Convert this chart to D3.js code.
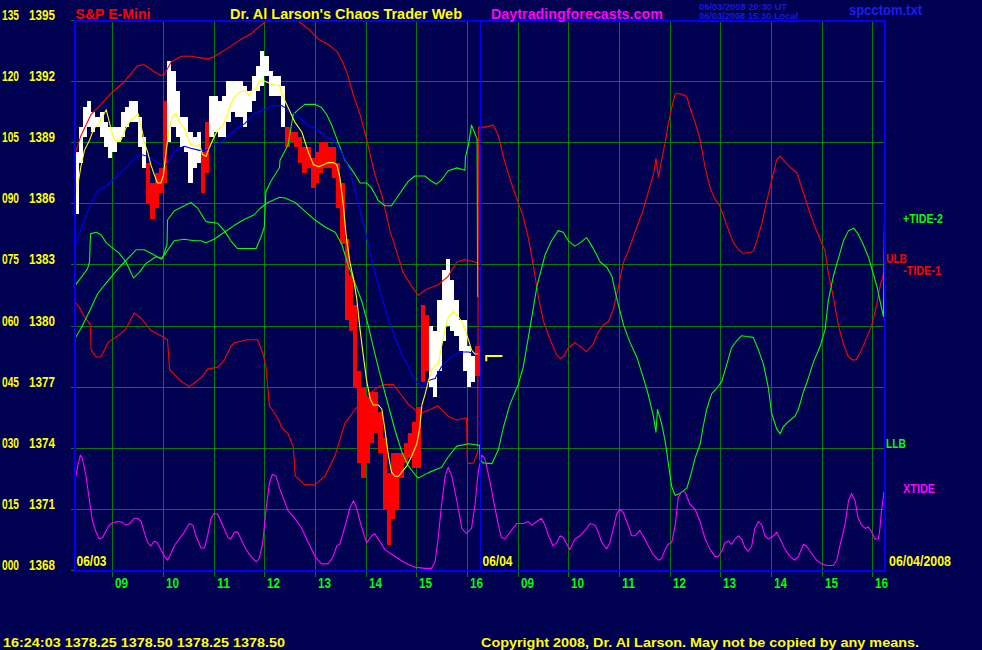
<!DOCTYPE html>
<html><head><meta charset="utf-8">
<script src="https://cdn.jsdelivr.net/npm/d3@7"></script>
<style>
html,body{margin:0;padding:0;background:#000050;}
svg{display:block;}
text{font-family:"Liberation Sans",Arial,sans-serif;font-weight:bold;}
</style></head><body>
<svg id="c" width="982" height="650"></svg>
<script>
// ---------------- DATA ----------------
const idxTicks=[0,15,30,45,60,75,90,105,120,135];
const priceTicks=[1368,1371,1374,1377,1380,1383,1386,1389,1392,1395];
const hourLabels=["09","10","11","12","13","14","15","16"];
const sessionDates=["06/03","06/04"];
const sessionStart=[0,8];          // session hours from 08:15 on 06/03
const firstHourOffset=0.75;        // 09:00 is 45 min after the 08:15 open
const barHours=1/12;               // 5-minute bars
const endDate="06/04/2008";

// price bars 06/03 (5-min high / low / up=1 white, down=0 red)
const barHigh=[1388.5,1389.75,1390.75,1391.0,1390.5,1390.25,1390.5,1390.0,1389.75,1389.75,
1389.75,1390.5,1390.75,1391.0,1391.0,1390.25,1389.25,1388.0,1387.0,1387.5,
1387.75,1391.0,1393.0,1392.5,1391.5,1390.25,1390.25,1389.5,1389.25,1389.5,
1388.5,1390.0,1391.25,1391.25,1391.0,1391.25,1392.0,1392.0,1392.0,1392.0,
1391.75,1391.5,1392.25,1392.75,1393.5,1393.25,1392.5,1392.25,1392.25,1391.75,
1389.75,1389.5,1389.5,1389.25,1388.75,1388.75,1388.25,1388.5,1389.0,1389.0,
1388.75,1388.75,1388.0,1387.0,1384.25,1382.5,1381.0,1377.75,1377.0,1376.5,
1376.75,1376.75,1375.75,1374.5,1372.75,1373.75,1373.75,1373.75,1374.25,1374.75,
1375.25,1376.0,1381.0,1380.5,1380.0,1379.75,1381.25,1382.75,1383.25,1382.25,
1381.25,1380.25,1380.25,1379.0,1378.5,1379.0];
const barLow=[1385.5,1388.0,1389.25,1389.75,1389.5,1389.75,1389.25,1388.75,1388.25,1388.5,
1389.0,1389.25,1389.75,1390.0,1390.0,1388.75,1387.75,1386.0,1385.25,1385.75,
1386.5,1387.0,1389.0,1389.75,1389.25,1388.75,1388.5,1387.0,1387.75,1388.0,
1386.5,1387.5,1389.25,1389.5,1389.25,1389.25,1390.0,1390.5,1390.25,1390.25,
1389.75,1390.5,1391.0,1391.5,1391.75,1392.25,1391.25,1391.25,1391.25,1389.75,
1388.75,1389.0,1388.75,1388.0,1387.5,1387.75,1386.75,1387.0,1387.5,1387.75,
1387.75,1387.25,1385.75,1384.0,1380.25,1379.75,1377.0,1373.25,1372.5,1373.25,
1374.25,1374.75,1373.75,1371.0,1369.25,1370.5,1371.0,1372.5,1373.25,1373.5,
1373.0,1373.0,1377.25,1377.75,1377.0,1376.5,1377.75,1379.25,1380.0,1379.75,
1379.5,1378.75,1377.75,1377.0,1377.25,1377.5];
const barUp=[1,1,1,1,1,1,1,1,1,1,1,1,1,1,1,1,1,0,0,0,0,0,1,1,1,1,1,1,1,1,0,0,
1,1,1,1,1,1,1,1,1,1,1,1,1,1,1,1,1,1,0,0,0,0,0,0,0,0,0,0,0,0,0,0,0,0,0,0,0,0,
0,0,0,0,0,0,0,0,0,0,0,0,0,0,1,1,1,1,1,1,1,1,1,1,1,0];

const lastPrice=1378.50, lastTickLow=1378.25, lastMarkT=[8.13,8.45];
const lastTime="16:24:03";
const lastOHLC=[1378.25,1378.50,1378.25,1378.50];

// moving averages (price)  [session hour, price]
const yellowMA=[[0.00,1386.05],[0.07,1386.9],[0.13,1387.8],[0.20,1388.6],[0.30,1389.1],[0.39,1389.7],[0.49,1389.9],[0.63,1390.6],[0.69,1390.0],[0.76,1389.3],[0.82,1389.1],[0.92,1389.1],[1.02,1389.7],[1.12,1390.1],[1.22,1390.3],[1.26,1390.4],[1.32,1389.8],[1.38,1389.0],[1.45,1388.5],[1.51,1387.9],[1.58,1387.4],[1.64,1387.0],[1.71,1387.0],[1.76,1387.4],[1.81,1388.5],[1.88,1389.8],[1.94,1390.3],[2.01,1390.4],[2.07,1390.0],[2.17,1389.7],[2.24,1389.2],[2.30,1388.9],[2.40,1388.8],[2.47,1388.9],[2.53,1388.4],[2.60,1388.3],[2.66,1388.7],[2.73,1389.1],[2.83,1389.6],[2.93,1389.8],[3.03,1390.4],[3.09,1390.9],[3.19,1391.3],[3.29,1391.5],[3.39,1391.5],[3.45,1391.3],[3.52,1391.6],[3.59,1391.6],[3.65,1392.0],[3.75,1392.0],[3.85,1391.9],[3.95,1391.8],[4.05,1391.8],[4.09,1391.4],[4.22,1390.7],[4.35,1390.0],[4.49,1389.5],[4.62,1388.5],[4.72,1387.9],[4.82,1387.8],[4.92,1387.9],[5.01,1388.0],[5.11,1388.0],[5.18,1387.9],[5.24,1387.3],[5.31,1385.9],[5.37,1384.3],[5.44,1383.1],[5.51,1382.3],[5.57,1381.4],[5.64,1379.8],[5.70,1378.6],[5.77,1377.3],[5.84,1376.4],[5.90,1376.1],[6.00,1376.1],[6.07,1375.9],[6.13,1374.9],[6.20,1373.6],[6.26,1372.8],[6.33,1372.6],[6.40,1372.6],[6.46,1372.8],[6.56,1373.1],[6.66,1373.6],[6.76,1374.2],[6.82,1375.0],[6.86,1376.1],[6.92,1376.6],[6.99,1377.3],[7.05,1377.8],[7.12,1378.0],[7.18,1378.1],[7.25,1379.0],[7.32,1379.8],[7.38,1380.4],[7.48,1380.7],[7.55,1380.5],[7.65,1380.2],[7.71,1379.8],[7.78,1379.3],[7.84,1378.8],[7.91,1378.6],[7.97,1378.6]];
const blueMA=[[0.00,1383.8],[0.10,1384.5],[0.20,1385.2],[0.33,1386.0],[0.46,1386.6],[0.66,1386.9],[0.86,1387.4],[1.05,1387.8],[1.18,1388.2],[1.32,1388.4],[1.45,1388.3],[1.58,1388.1],[1.71,1387.9],[1.78,1387.8],[1.84,1388.0],[1.97,1388.5],[2.07,1388.7],[2.17,1388.8],[2.30,1388.7],[2.47,1388.6],[2.60,1388.6],[2.70,1388.8],[2.89,1389.0],[3.03,1389.3],[3.22,1389.7],[3.36,1389.9],[3.55,1390.4],[3.75,1390.6],[3.95,1390.8],[4.09,1390.8],[4.22,1390.6],[4.35,1390.4],[4.49,1390.1],[4.62,1389.8],[4.75,1389.7],[4.95,1389.3],[5.11,1389.1],[5.28,1388.5],[5.41,1387.8],[5.54,1386.6],[5.67,1385.4],[5.80,1384.0],[5.93,1382.6],[6.07,1381.4],[6.20,1380.3],[6.33,1379.4],[6.46,1378.6],[6.59,1378.0],[6.72,1377.3],[6.86,1377.0],[6.99,1377.3],[7.12,1377.4],[7.25,1378.0],[7.38,1378.3],[7.51,1378.6],[7.65,1378.7],[7.78,1378.7],[7.91,1378.6],[7.97,1378.5]];

// cycle index lines (0-135 scale)  [session hour, value]
const ulb=[[0,101.4],[0.13,106.6],[0.33,111.8],[0.53,114.3],[0.72,116.9],[0.99,119.9],[1.25,123.8],[1.38,124.0],[1.58,122.3],[1.71,121.4],[1.78,121.7],[1.91,124.7],[2.11,126.1],[2.30,126.1],[2.50,125.7],[2.63,125.4],[2.76,126.0],[3.03,128.1],[3.29,130.3],[3.49,131.6],[3.68,133.7],[3.82,135.0],[4.1,138.5],[4.39,135.0],[4.62,132.8],[4.82,130.3],[5.01,129.0],[5.18,127.3],[5.28,125.1],[5.38,122.1],[5.51,116.5],[5.64,111.8],[5.77,105.7],[5.93,97.1],[6.07,92.0],[6.23,83.3],[6.36,78.2],[6.49,73.0],[6.66,69.6],[6.79,67.4],[6.92,68.7],[7.18,70.0],[7.38,72.1],[7.55,75.6],[7.71,76.2],[7.91,75.6],[7.97,75.2]];
const tide1=[[0,66.1],[0.10,64.4],[0.20,62.2],[0.32,60.1],[0.33,54.1],[0.43,52.3],[0.53,52.3],[0.66,55.8],[0.86,57.5],[1.02,59.2],[1.18,63.1],[1.32,61.8],[1.51,58.8],[1.71,57.5],[1.84,56.5],[1.88,49.3],[1.97,48.0],[2.11,46.3],[2.27,45.0],[2.37,45.9],[2.53,47.6],[2.63,49.3],[2.83,49.8],[2.96,51.5],[3.09,54.9],[3.16,55.8],[3.42,56.5],[3.62,56.5],[3.72,53.2],[3.78,50.2],[3.82,44.6],[3.85,40.3],[3.95,38.6],[4.05,36.4],[4.09,35.1],[4.22,33.4],[4.32,30.4],[4.36,23.1],[4.55,20.9],[4.75,20.9],[4.95,23.1],[5.15,28.2],[5.34,36.0],[5.54,39.4],[5.67,41.2],[5.80,42.9],[6.00,45.0],[6.13,45.5],[6.30,45.5],[6.46,42.9],[6.59,40.7],[6.72,39.4],[6.86,38.6],[7.02,39.4],[7.18,40.3],[7.38,37.7],[7.55,36.8],[7.74,37.3],[7.76,26.1],[7.88,26.3],[7.96,28.9],[7.98,108.7],[8.11,108.7],[8.27,109.2],[8.37,106.6],[8.47,101.4],[8.57,97.1],[8.66,93.7],[8.76,90.2],[8.86,86.8],[8.96,81.6],[9.06,74.7],[9.16,67.0],[9.26,61.0],[9.39,56.6],[9.52,52.8],[9.59,51.9],[9.65,52.3],[9.75,54.5],[9.88,55.8],[9.98,54.9],[10.11,53.6],[10.24,55.4],[10.34,58.4],[10.44,60.1],[10.54,61.0],[10.64,64.0],[10.74,69.6],[10.84,75.6],[10.93,78.2],[11.03,81.6],[11.13,85.1],[11.23,88.5],[11.33,92.8],[11.43,97.1],[11.48,101.0],[11.53,96.3],[11.57,99.3],[11.66,104.9],[11.72,109.2],[11.79,113.5],[11.86,116.9],[11.95,116.9],[12.05,116.5],[12.09,116.1],[12.15,113.5],[12.25,110.0],[12.35,105.7],[12.45,98.8],[12.55,93.7],[12.64,91.1],[12.74,89.4],[12.84,85.9],[12.94,82.5],[13.01,80.3],[13.11,78.6],[13.20,77.7],[13.34,78.0],[13.40,78.2],[13.47,80.8],[13.57,85.1],[13.66,90.2],[13.76,95.4],[13.86,100.6],[13.93,101.6],[14.03,100.1],[14.13,98.8],[14.26,97.5],[14.36,93.7],[14.45,90.2],[14.59,85.1],[14.72,81.2],[14.82,78.2],[14.88,73.0],[14.98,67.0],[15.08,60.1],[15.18,55.4],[15.28,52.3],[15.38,51.5],[15.44,51.7],[15.54,54.1],[15.64,57.1],[15.74,60.1],[15.84,65.3],[15.90,69.6],[15.98,73.0]];
const tide2Day1=[[0,69.6],[0.13,71.7],[0.26,73.9],[0.30,75.6],[0.32,82.5],[0.43,82.9],[0.53,82.3],[0.63,80.3],[0.76,79.0],[0.89,77.7],[1.02,75.6],[1.17,71.7],[1.28,73.0],[1.41,75.2],[1.61,76.9],[1.74,76.5],[1.83,79.9],[1.84,85.9],[1.97,88.1],[2.17,89.4],[2.30,90.2],[2.43,88.9],[2.60,85.5],[2.83,85.1],[2.96,83.3],[3.09,80.8],[3.22,78.9],[3.59,78.9],[3.68,81.6],[3.75,84.2],[3.78,92.8],[3.88,95.4],[4.05,98.8],[4.06,100.6],[4.22,104.4],[4.32,111.8],[4.42,113.0],[4.55,114.3],[4.75,114.3],[4.88,113.5],[4.98,111.8],[5.08,109.2],[5.21,104.9],[5.34,100.6],[5.54,97.1],[5.64,95.0],[5.77,95.0],[5.87,93.7],[6.00,90.7],[6.13,89.4],[6.26,89.4],[6.40,92.0],[6.59,95.4],[6.72,96.7],[6.92,96.7],[7.05,95.4],[7.15,94.7],[7.25,95.8],[7.38,98.0],[7.55,98.7],[7.71,98.1],[7.72,101.4],[7.78,104.4],[7.84,109.2],[7.91,107.0],[7.95,105.7],[7.96,67.0]];
const llbTide2=[[0,56.6],[0.13,59.2],[0.30,63.5],[0.46,67.8],[0.66,70.9],[0.86,73.9],[0.99,75.6],[1.22,78.6],[1.38,78.6],[1.55,77.5],[1.72,76.3],[1.97,80.8],[2.17,81.2],[2.37,80.8],[2.50,80.8],[2.60,80.3],[2.76,81.2],[2.96,82.9],[3.16,84.6],[3.36,86.1],[3.55,87.2],[3.68,88.9],[3.82,90.2],[4.05,91.5],[4.16,91.3],[4.36,90.2],[4.55,88.1],[4.75,85.9],[4.95,84.2],[5.15,82.9],[5.28,79.9],[5.41,74.7],[5.54,70.4],[5.67,66.1],[5.80,60.1],[5.93,53.2],[6.07,46.3],[6.20,40.3],[6.33,34.3],[6.46,29.1],[6.59,25.6],[6.72,23.5],[6.79,22.6],[6.99,23.9],[7.25,25.2],[7.38,27.8],[7.55,30.4],[7.78,31.0],[8.00,30.6],[8.01,27.0],[8.07,26.3],[8.24,26.1],[8.37,29.5],[8.47,35.1],[8.60,40.7],[8.76,45.5],[8.86,49.8],[8.99,59.2],[9.13,69.6],[9.29,77.3],[9.42,80.8],[9.55,83.3],[9.65,82.9],[9.75,80.8],[9.88,79.5],[9.98,80.3],[10.11,81.6],[10.24,79.0],[10.38,75.6],[10.51,74.3],[10.61,72.1],[10.70,67.0],[10.84,60.1],[10.97,55.8],[11.10,52.3],[11.23,47.2],[11.33,42.9],[11.43,37.7],[11.48,33.8],[11.51,39.4],[11.59,36.0],[11.66,31.7],[11.72,26.5],[11.79,20.5],[11.86,18.3],[11.95,18.8],[12.09,20.1],[12.18,23.9],[12.25,27.4],[12.35,30.8],[12.41,35.1],[12.48,39.4],[12.58,43.3],[12.68,44.6],[12.78,46.3],[12.88,50.6],[12.97,54.5],[13.07,56.2],[13.17,57.5],[13.27,57.3],[13.40,57.1],[13.50,54.1],[13.60,50.6],[13.70,44.6],[13.76,38.6],[13.86,34.7],[13.93,33.4],[13.99,35.1],[14.09,36.4],[14.22,37.7],[14.29,39.4],[14.39,43.7],[14.49,47.2],[14.59,51.1],[14.72,54.9],[14.82,59.2],[14.88,66.1],[14.98,72.1],[15.08,76.5],[15.18,80.8],[15.28,83.3],[15.38,83.9],[15.47,82.5],[15.57,79.9],[15.67,76.9],[15.74,73.9],[15.84,69.6],[15.93,64.4],[15.97,62.2],[15.99,85.5]];
const xtide=[[0.00,20.9],[0.07,25.7],[0.12,28.2],[0.16,27.4],[0.23,23.1],[0.30,17.0],[0.36,11.9],[0.43,9.3],[0.49,7.6],[0.56,8.0],[0.63,9.7],[0.69,11.0],[0.76,11.6],[0.86,11.9],[0.95,11.7],[1.02,11.0],[1.09,11.4],[1.18,12.7],[1.25,12.7],[1.32,11.9],[1.38,9.3],[1.45,6.7],[1.51,5.9],[1.58,7.1],[1.64,6.7],[1.71,5.0],[1.78,3.3],[1.84,2.4],[1.91,4.1],[1.97,5.9],[2.07,7.6],[2.17,9.3],[2.27,11.4],[2.34,11.0],[2.40,8.4],[2.50,5.4],[2.57,5.4],[2.63,8.4],[2.70,12.7],[2.76,14.0],[2.83,13.6],[2.93,11.0],[3.03,8.0],[3.09,7.6],[3.16,9.3],[3.22,9.3],[3.29,7.6],[3.39,5.0],[3.49,3.3],[3.59,2.0],[3.65,2.8],[3.72,6.7],[3.78,14.5],[3.85,21.3],[3.91,23.5],[3.98,23.1],[4.05,20.1],[4.09,18.8],[4.22,14.5],[4.35,12.7],[4.49,10.2],[4.62,6.7],[4.75,3.3],[4.88,1.5],[5.01,1.5],[5.11,3.3],[5.18,5.9],[5.24,6.3],[5.37,11.9],[5.44,15.3],[5.51,17.0],[5.57,15.3],[5.64,11.9],[5.70,9.3],[5.77,6.7],[5.87,8.4],[5.93,8.9],[6.00,7.6],[6.13,5.0],[6.33,3.3],[6.53,1.7],[6.72,0.7],[6.92,0.4],[7.05,0.4],[7.12,2.0],[7.18,7.6],[7.25,16.2],[7.32,23.1],[7.38,25.2],[7.45,23.1],[7.55,17.0],[7.65,10.2],[7.74,8.9],[7.84,10.2],[7.91,16.2],[7.97,23.9],[8.04,28.2],[8.10,27.4],[8.20,22.0],[8.30,15.3],[8.37,11.0],[8.43,8.0],[8.50,7.6],[8.60,9.3],[8.73,11.4],[8.86,11.4],[8.96,11.9],[9.03,11.0],[9.13,11.9],[9.22,12.7],[9.29,11.0],[9.36,8.4],[9.45,5.9],[9.52,6.7],[9.59,8.4],[9.65,8.0],[9.72,6.3],[9.78,5.0],[9.88,7.6],[9.98,8.4],[10.08,9.7],[10.18,11.4],[10.28,11.0],[10.34,9.3],[10.41,6.7],[10.51,5.2],[10.57,6.7],[10.64,10.2],[10.70,13.6],[10.77,14.9],[10.84,14.0],[10.93,11.0],[11.00,8.4],[11.07,8.4],[11.16,9.7],[11.26,7.6],[11.33,5.9],[11.43,3.7],[11.53,2.4],[11.59,2.8],[11.66,5.0],[11.72,6.3],[11.79,6.7],[11.86,11.0],[11.92,17.9],[11.99,19.2],[12.05,19.2],[12.15,16.2],[12.25,14.9],[12.35,11.9],[12.45,7.6],[12.55,5.0],[12.65,3.3],[12.71,3.3],[12.78,4.6],[12.84,6.7],[12.91,7.1],[12.97,6.3],[13.04,7.6],[13.11,8.4],[13.17,7.6],[13.24,5.4],[13.30,4.6],[13.37,5.9],[13.43,10.2],[13.50,11.9],[13.57,11.0],[13.63,8.4],[13.70,7.6],[13.80,8.4],[13.86,9.3],[13.93,7.6],[14.03,5.0],[14.13,3.3],[14.22,2.4],[14.29,3.3],[14.39,6.3],[14.45,5.9],[14.55,4.1],[14.65,2.4],[14.75,1.5],[14.85,1.1],[14.98,1.1],[15.05,2.4],[15.11,5.9],[15.21,11.0],[15.28,17.0],[15.34,18.8],[15.41,17.0],[15.47,12.7],[15.54,11.0],[15.61,10.2],[15.67,10.6],[15.74,9.3],[15.80,7.6],[15.87,7.6],[15.90,10.2],[15.93,14.5],[15.98,19.2]];

// ---------------- DRAW ----------------
const BG="#000050", GRID="#008000", BORDER="#0000ff";
const svg=d3.select("#c");
svg.append("rect").attr("width",982).attr("height",650).attr("fill",BG);

const x=d3.scaleLinear().domain([0,16]).range([74.3,885]);
const yIdx=d3.scaleLinear().domain([0,135]).range([570,20]);
const yPx=d3.scaleLinear().domain([1368,1395]).range([570,20]);

const hourTicks=[];
sessionStart.forEach(s=>hourLabels.forEach((l,i)=>hourTicks.push({t:s+firstHourOffset+i,label:l})));

const g=svg.append("g");
g.selectAll("line.h").data(idxTicks).join("line")
 .attr("x1",71).attr("x2",884)
 .attr("y1",d=>Math.round(yIdx(d))+0.5).attr("y2",d=>Math.round(yIdx(d))+0.5)
 .attr("stroke",GRID).attr("stroke-width",1);
g.selectAll("line.v").data(hourTicks).join("line")
 .attr("x1",d=>Math.round(x(d.t))+0.5).attr("x2",d=>Math.round(x(d.t))+0.5)
 .attr("y1",20).attr("y2",577)
 .attr("stroke",GRID).attr("stroke-width",1);

svg.append("clipPath").attr("id","pc").append("rect").attr("x",76).attr("y",22).attr("width",808).attr("height",548);
const p=svg.append("g").attr("clip-path","url(#pc)");

p.selectAll("rect.bar").data(barHigh).join("rect")
 .attr("x",(d,i)=>x(i*barHours))
 .attr("width",(d,i)=>x((i+1)*barHours)-x(i*barHours))
 .attr("y",d=>yPx(d))
 .attr("height",(d,i)=>Math.max(1,yPx(barLow[i])-yPx(d)))
 .attr("fill",(d,i)=>barUp[i]?"#ffffff":"#ff0000")
 .attr("shape-rendering","crispEdges");

const lineIdx=d3.line().x(d=>x(d[0])).y(d=>yIdx(d[1]));
const linePx=d3.line().x(d=>x(d[0])).y(d=>yPx(d[1]));
function draw(data,gen,color){
  p.append("path").attr("d",gen(data)).attr("fill","none").attr("stroke",color)
   .attr("stroke-width",1.1).attr("stroke-linejoin","round");
}
draw(ulb,lineIdx,"#ff0000");
draw(tide1,lineIdx,"#ff0000");
draw(tide2Day1,lineIdx,"#00ff00");
draw(llbTide2,lineIdx,"#00ff00");
draw(xtide,lineIdx,"#ff00ff");
draw(blueMA,linePx,"#0000ff");
draw(yellowMA,linePx,"#ffff00");

p.append("path").attr("d",d3.line()([[x(lastMarkT[0]),yPx(lastTickLow)],[x(lastMarkT[0]),yPx(lastPrice)],[x(lastMarkT[1]),yPx(lastPrice)]]))
 .attr("fill","none").attr("stroke","#ffff00").attr("stroke-width",2);

svg.append("line").attr("x1",Math.round(x(sessionStart[1]))+0.5).attr("x2",Math.round(x(sessionStart[1]))+0.5)
 .attr("y1",20).attr("y2",570).attr("stroke",BORDER).attr("stroke-width",1);

svg.append("rect").attr("x",75).attr("y",21).attr("width",810).attr("height",550)
 .attr("fill","none").attr("stroke",BORDER).attr("stroke-width",2);

function txt(xp,yp,s,fill,size,len,weight){
  const t=svg.append("text").attr("x",xp).attr("y",yp).text(s).attr("fill",fill)
    .attr("font-size",size);
  if(len) t.attr("textLength",len).attr("lengthAdjust","spacingAndGlyphs");
  if(weight) t.attr("font-weight",weight);
  return t;
}
const f3=d3.format("03d");
idxTicks.forEach((v,i)=>{
  const yy=Math.round(yIdx(v))-0.5;
  txt(2,yy,f3(v),"#ffff00",14.5,17);
  txt(29,yy,String(priceTicks[i]),"#ffff00",14.5,26);
});

txt(75.5,18.5,"S&P E-Mini","#ff0000",14,75);
txt(230,18.5,"Dr. Al Larson's Chaos Trader Web","#ffff00",14,232);
txt(491,18.5,"Daytradingforecasts.com","#ff00ff",14,172);
txt(699,10,"06/03/2008 20:30  UT","#1a1ad8",9.5,88,"normal");
txt(699,19.3,"06/03/2008 15:30  Local","#1a1ad8",9.5,99,"normal");
txt(849,15,"spcctom.txt","#1c1cf0",14,73);

hourTicks.forEach(d=>txt(Math.round(x(d.t))+3,588,d.label,"#00ff00",15.5,13));
sessionStart.forEach((s,i)=>txt(Math.round(x(s))+2.5,566,sessionDates[i],"#ffff00",14,30));
txt(889,566,endDate,"#ffff00",14,62);

txt(903,223,"+TIDE-2","#00ff00",13,40);
txt(886,263,"ULB","#ff0000",13,21);
txt(903,275,"-TIDE-1","#ff0000",13,38);
txt(886,447.5,"LLB","#00ff00",13,20);
txt(903,493,"XTIDE","#ff00ff",13,32);

txt(3,646.5,lastTime+"  "+lastOHLC.map(v=>v.toFixed(2)).join(" "),"#ffff00",13,282);
txt(481,646.5,"Copyright 2008, Dr. Al Larson. May not be copied by any means.","#ffff00",13,438);
</script>
</body></html>
